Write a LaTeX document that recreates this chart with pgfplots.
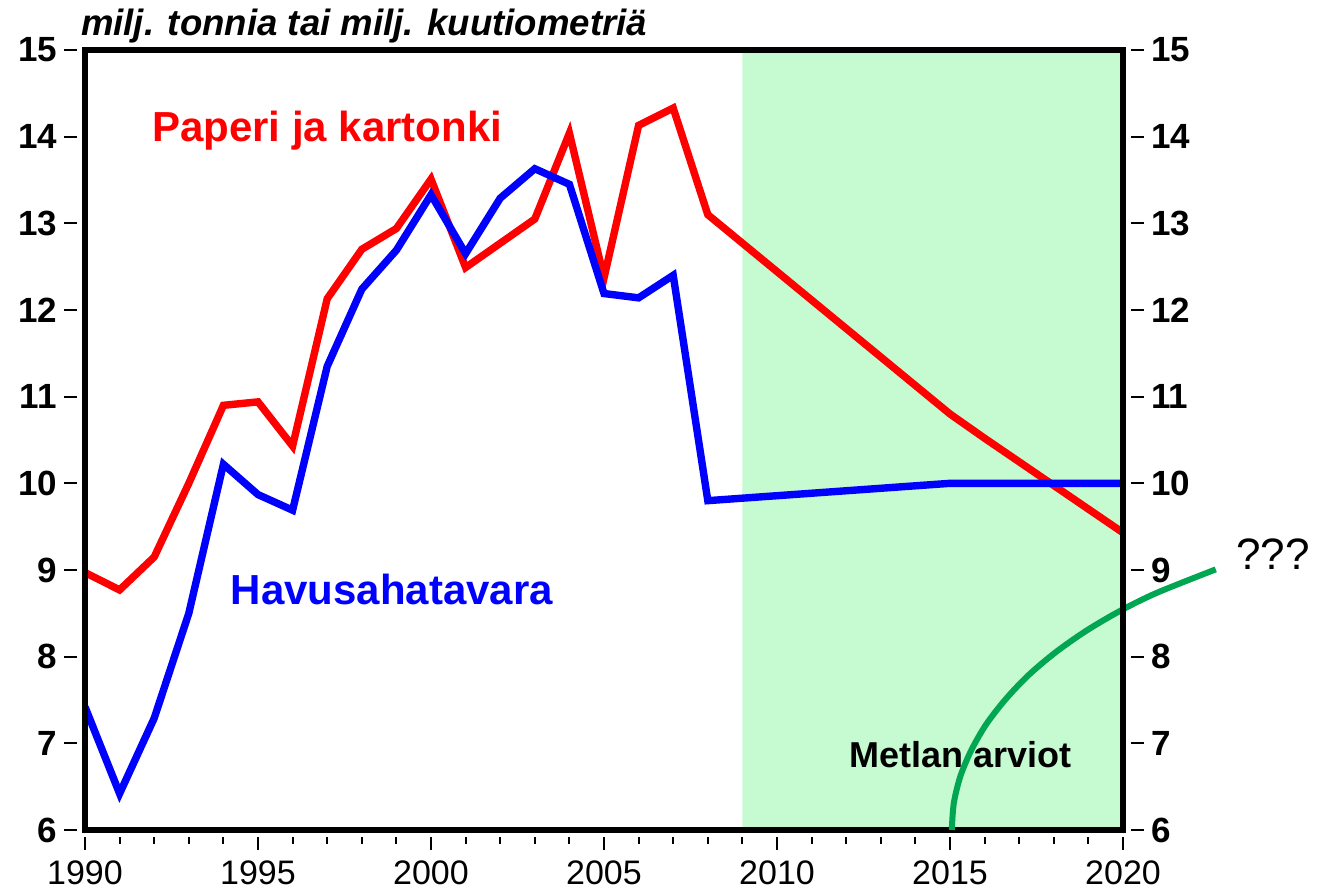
\documentclass[border=0pt]{standalone}
\usepackage{pgfplots}
\pgfplotsset{compat=1.18}
\usepackage{fontspec}
\setmainfont{Liberation Sans}
\definecolor{shade}{RGB}{198,250,208}
\definecolor{metla}{RGB}{0,166,81}

\pgfplotsset{
  common/.style={
    scale only axis, width=519pt, height=390pt,
    xmin=1990, xmax=2020, ymin=6, ymax=15,
    axis on top,
    tick align=outside,
    major tick length=6.5pt, minor tick length=3.5pt,
    every tick/.style={black, line width=1pt},
    ytick={6,7,...,15},
    /pgf/number format/assume math mode=true,
    /pgf/number format/1000 sep={},
    yticklabel style={font=\fontsize{17.5}{20}\selectfont\bfseries},
  },
}

\begin{document}
\begin{tikzpicture}
\begin{axis}[common,
  axis line style={line width=2.6pt},
  xtick={1990,1995,...,2020}, minor x tick num=4,
  xtick pos=bottom, ytick pos=left,
  every x tick/.append style={yshift=-3.5pt},
  every y tick/.append style={xshift=-4pt},
  xticklabel style={font=\fontsize{17}{20}\selectfont, yshift=-5.5pt},
  yticklabel style={xshift=-4pt},
]
\coordinate (sw) at (rel axis cs:0,0);
\coordinate (ne) at (rel axis cs:1,1);

% Metlan arviot -jakso
\addplot[fill=shade, draw=none] coordinates {(2009,6) (2009,15) (2020,15) (2020,6) (2009,6)};

% Paperi ja kartonki
\addplot[red, line width=3.7pt, line join=miter] coordinates {
(1990,8.97) (1991,8.77) (1992,9.15) (1993,10.00) (1994,10.90) (1995,10.94)
(1996,10.43) (1997,12.13) (1998,12.70) (1999,12.94) (2000,13.51) (2001,12.49)
(2002,12.77) (2003,13.05) (2004,14.04) (2005,12.37) (2006,14.13) (2007,14.33)
(2008,13.10) (2015,10.80) (2016,10.52) (2020,9.43)
};

% Havusahatavara
\addplot[blue, line width=3.7pt, line join=miter] coordinates {
(1990,7.42) (1991,6.42) (1992,7.29) (1993,8.50) (1994,10.22) (1995,9.87)
(1996,9.69) (1997,11.35) (1998,12.24) (1999,12.69) (2000,13.33) (2001,12.65)
(2002,13.29) (2003,13.63) (2004,13.45) (2005,12.19) (2006,12.14) (2007,12.40)
(2008,9.80) (2015,10.00) (2020,10.00)
};

\node[red, anchor=base, font=\fontsize{21}{24}\selectfont\bfseries] at (axis cs:1997.0,13.94) {Paperi ja kartonki};
\node[blue, anchor=base, font=\fontsize{21}{24}\selectfont\bfseries] at (axis cs:1998.87,8.60) {Havusahatavara};
\node[black, anchor=base, font=\fontsize{18}{21}\selectfont\bfseries] at (axis cs:2015.29,6.72) {Metlan arviot};
\end{axis}

\begin{axis}[common,
  axis x line=none, axis y line*=right,
  axis line style={-, line width=2.6pt},
  every y tick/.append style={xshift=4pt},
  yticklabel style={xshift=4pt},
  clip=false,
]
\addplot[metla, line width=3pt, smooth] coordinates {
(2015.05,6.000) (2015.11,6.311) (2015.30,6.621) (2015.62,6.925) (2016.05,7.222)
(2016.61,7.510) (2017.27,7.787) (2018.05,8.050) (2018.93,8.297) (2019.91,8.527)
(2020.98,8.737) (2022.68,9.007)
};
\node[anchor=base, font=\fontsize{22}{26}\selectfont] at (axis cs:2024.33,9.0) {???};
\end{axis}

\node[anchor=base west, font=\fontsize{18.3}{22}\selectfont\bfseries\itshape, xshift=-5.5pt, yshift=7pt] at (sw |- ne) {milj. tonnia tai milj. kuutiometriä};

\pgfresetboundingbox
\path[use as bounding box] ([shift={(-42.5pt,-32pt)}]sw) rectangle ([shift={(98.5pt,25pt)}]ne);
\end{tikzpicture}
\end{document}
